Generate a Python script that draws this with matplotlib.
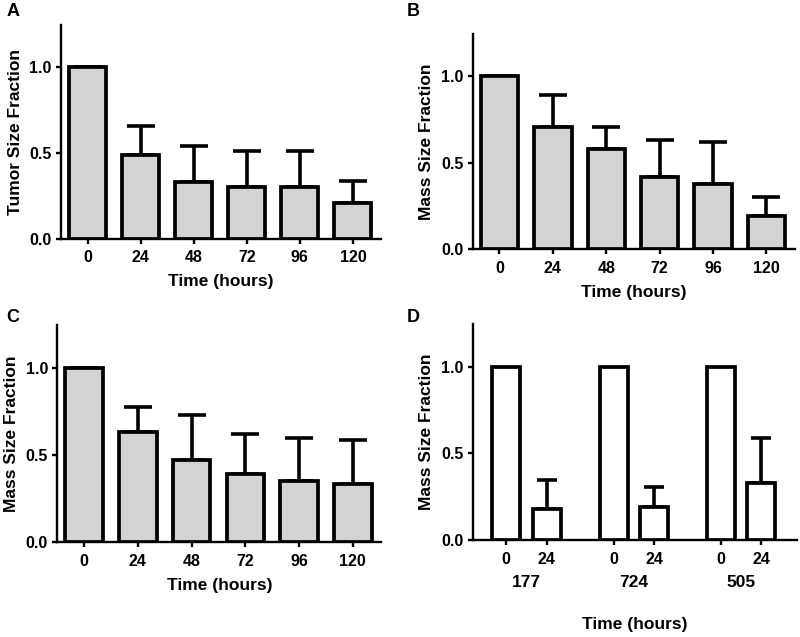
import numpy as np
import matplotlib
matplotlib.use("Agg")
import matplotlib.pyplot as plt

plt.rcParams['font.family'] = ['Liberation Sans', 'DejaVu Sans']
plt.rcParams['font.weight'] = 'bold'

times = ['0', '24', '48', '72', '96', '120']

mean_a = [1.0, 0.49, 0.33, 0.30, 0.30, 0.21]
sd_a = [0.0, 0.17, 0.21, 0.21, 0.21, 0.13]

mean_b = [1.0, 0.71, 0.58, 0.42, 0.38, 0.19]
sd_b = [0.0, 0.18, 0.13, 0.21, 0.24, 0.11]

mean_c = [1.0, 0.63, 0.47, 0.39, 0.35, 0.335]
sd_c = [0.0, 0.145, 0.26, 0.23, 0.245, 0.25]

groups_d = ['177', '724', '505']
times_d = ['0', '24']
mean_d0 = [1.0, 1.0, 1.0]
mean_d24 = [0.18, 0.19, 0.33]
sd_d24 = [0.165, 0.115, 0.26]

EDGE = 2.7
TICKFS = 11.5
LABFS = 12.5


def style_axis(ax, ylabel):
    for s in ['top', 'right']:
        ax.spines[s].set_visible(False)
    for s in ['left', 'bottom']:
        ax.spines[s].set_linewidth(1.7)
    ax.set_ylim(0, 1.245)
    ax.set_yticks([0.0, 0.5, 1.0])
    ax.set_yticklabels(['0.0', '0.5', '1.0'])
    ax.tick_params(axis='both', direction='out', length=3.6, width=1.7, labelsize=TICKFS)
    ax.tick_params(axis='y', pad=3)
    ax.tick_params(axis='x', pad=4.5)
    ax.set_ylabel(ylabel, fontsize=12.5, fontweight='bold', labelpad=5)


def bar_panel(ax, means, sds, ylabel):
    x = np.arange(len(times))
    ax.bar(x, means, width=0.7, color='#d3d3d3', edgecolor='black', linewidth=EDGE, zorder=3)
    ax.errorbar(x, means, yerr=[np.zeros(len(sds)), sds], fmt='none', ecolor='black',
                elinewidth=2.6, capsize=10, capthick=2.6, zorder=2)
    ax.set_xticks(x)
    ax.set_xticklabels(times)
    ax.set_xlim(-0.5, 5.53)
    style_axis(ax, ylabel)
    ax.set_xlabel('Time (hours)', fontsize=LABFS, fontweight='bold', labelpad=6.5)


fig = plt.figure(figsize=(8, 6.37), dpi=100)

axA = fig.add_axes([0.0763, 0.6248, 0.4, 0.336])
bar_panel(axA, mean_a, sd_a, 'Tumor Size Fraction')

axB = fig.add_axes([0.591, 0.6086, 0.4025, 0.338])
bar_panel(axB, mean_b, sd_b, 'Mass Size Fraction')

axC = fig.add_axes([0.0716, 0.1487, 0.405, 0.341])
bar_panel(axC, mean_c, sd_c, 'Mass Size Fraction')

# panel D: paired bars per group
axD = fig.add_axes([0.591, 0.1518, 0.405, 0.3396])
gap = 2.66
xg = np.arange(len(groups_d)) * gap
axD.bar(xg, mean_d0, width=0.69, color='white', edgecolor='black', linewidth=EDGE, zorder=3)
axD.bar(xg + 1, mean_d24, width=0.69, color='white', edgecolor='black', linewidth=EDGE, zorder=3)
axD.errorbar(xg + 1, mean_d24, yerr=[np.zeros(len(sd_d24)), sd_d24], fmt='none', ecolor='black',
             elinewidth=2.6, capsize=7, capthick=2.6, zorder=2)
xt = np.concatenate([xg, xg + 1])
axD.set_xticks(np.sort(xt))
axD.set_xticklabels(times_d * len(groups_d))
axD.set_xlim(-0.83, 7.2)
style_axis(axD, 'Mass Size Fraction')
for i, g in enumerate(groups_d):
    axD.annotate(g, xy=(xg[i] + 0.5, 0), xycoords=('data', 'axes fraction'),
                 xytext=(0, -30.5), textcoords='offset points', ha='center', va='center',
                 fontsize=LABFS, fontweight='bold')
axD.set_xlabel('Time (hours)', fontsize=LABFS, fontweight='bold', labelpad=36)

for lab, (x, y) in zip('ABCD', [(0.008, 0.995), (0.508, 0.995), (0.008, 0.515), (0.508, 0.515)]):
    fig.text(x, y, lab, fontsize=13, fontweight='bold', ha='left', va='top')

fig.savefig('out.png', dpi=100)
